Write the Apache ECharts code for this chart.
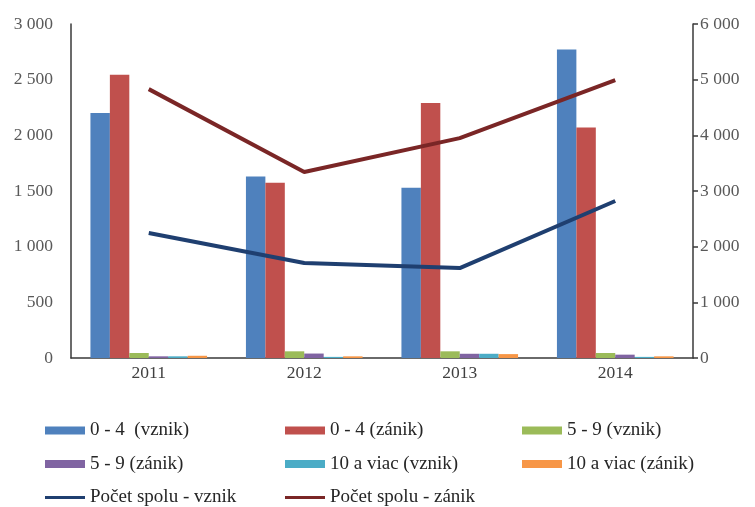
<!DOCTYPE html>
<html>
<head>
<meta charset="utf-8">
<script src="https://cdn.jsdelivr.net/npm/echarts@6/dist/echarts.min.js"></script>
<style>
  html, body { margin: 0; padding: 0; background: #fff; }
  #chart { width: 755px; height: 507px; }
</style>
</head>
<body>
<div id="chart"></div>
<script>
// data
var years = ['2011', '2012', '2013', '2014'];
var vznik04 = [2200, 1630, 1530, 2770];
var zanik04 = [2545, 1575, 2290, 2070];
var vznik59 = [45, 60, 60, 45];
var zanik59 = [15, 40, 38, 30];
var vznik10 = [15, 10, 38, 10];
var zanik10 = [20, 15, 35, 15];
var spoluVznik = [2245, 1705, 1615, 2820];
var spoluZanik = [4830, 3340, 3950, 4990];

var leftTicks = [0, 3000, 500];
var rightTicks = [0, 6000, 1000];

(function() {
    var myChart = echarts.init(document.getElementById('chart'));

    // '3 000' style numbers
    function fmt(v) {
        return String(v).replace(/\B(?=(\d{3})+(?!\d))/g, ' ');
    }

    var font = '"Liberation Serif", "DejaVu Serif", serif';
    var legendText = { color: '#262626', fontSize: 19, fontFamily: font };
    var lineIcon = 'path://M0,0H40V3H0Z';

    function legendCol(left, names) {
        return {
            orient: 'vertical',
            left: left,
            top: 421,
            height: 120,
            padding: 0,
            itemWidth: 40,
            itemHeight: 8,
            itemGap: 14.5,
            textStyle: legendText,
            data: names.map(function(n) {
                return n.indexOf('Počet') === 0 ? { name: n, icon: lineIcon } : { name: n, icon: 'rect' };
            })
        };
    }

    function bar(name, data, color) {
        return {
            name: name,
            type: 'bar',
            data: data,
            barGap: '0%',
            barCategoryGap: '25%',
            itemStyle: { color: color }
        };
    }

    function line(name, data, color) {
        return {
            name: name,
            type: 'line',
            yAxisIndex: 1,
            data: data,
            symbol: 'none',
            lineStyle: { color: color, width: 4 },
            itemStyle: { color: color }
        };
    }

    var option = {
        animation: false,
        textStyle: { fontFamily: font },
        grid: { left: 71, right: 62, top: 24, bottom: 149 },
        legend: [
            legendCol(45, ['0 - 4  (vznik)', '5 - 9 (zánik)', 'Počet spolu - vznik']),
            legendCol(285, ['0 - 4 (zánik)', '10 a viac (vznik)', 'Počet spolu - zánik']),
            legendCol(522, ['5 - 9 (vznik)', '10 a viac (zánik)'])
        ],
        xAxis: {
            type: 'category',
            data: years,
            axisLine: { lineStyle: { color: '#3a3a3a', width: 1.5 } },
            axisTick: { show: false },
            axisLabel: { color: '#404040', fontSize: 17.5, fontFamily: font, margin: 6 }
        },
        yAxis: [
            {
                type: 'value',
                min: leftTicks[0],
                max: leftTicks[1],
                interval: leftTicks[2],
                splitLine: { show: false },
                axisLine: { show: true, lineStyle: { color: '#3a3a3a', width: 1.5 } },
                axisTick: { show: false },
                axisLabel: { color: '#595959', fontSize: 17.5, fontFamily: font, margin: 18, formatter: fmt }
            },
            {
                type: 'value',
                position: 'right',
                min: rightTicks[0],
                max: rightTicks[1],
                interval: rightTicks[2],
                splitLine: { show: false },
                axisLine: { show: true, lineStyle: { color: '#3a3a3a', width: 1.5 } },
                axisTick: { show: true, length: 5, lineStyle: { color: '#3a3a3a', width: 1.5 } },
                axisLabel: { color: '#595959', fontSize: 17.5, fontFamily: font, margin: 7, formatter: fmt }
            }
        ],
        series: [
            bar('0 - 4  (vznik)', vznik04, '#4F81BD'),
            bar('0 - 4 (zánik)', zanik04, '#C0504D'),
            bar('5 - 9 (vznik)', vznik59, '#9BBB59'),
            bar('5 - 9 (zánik)', zanik59, '#8064A2'),
            bar('10 a viac (vznik)', vznik10, '#4BACC6'),
            bar('10 a viac (zánik)', zanik10, '#F79646'),
            line('Počet spolu - vznik', spoluVznik, '#1F3F70'),
            line('Počet spolu - zánik', spoluZanik, '#7A2626')
        ]
    };
    myChart.setOption(option);
})();
</script>
</body>
</html>
